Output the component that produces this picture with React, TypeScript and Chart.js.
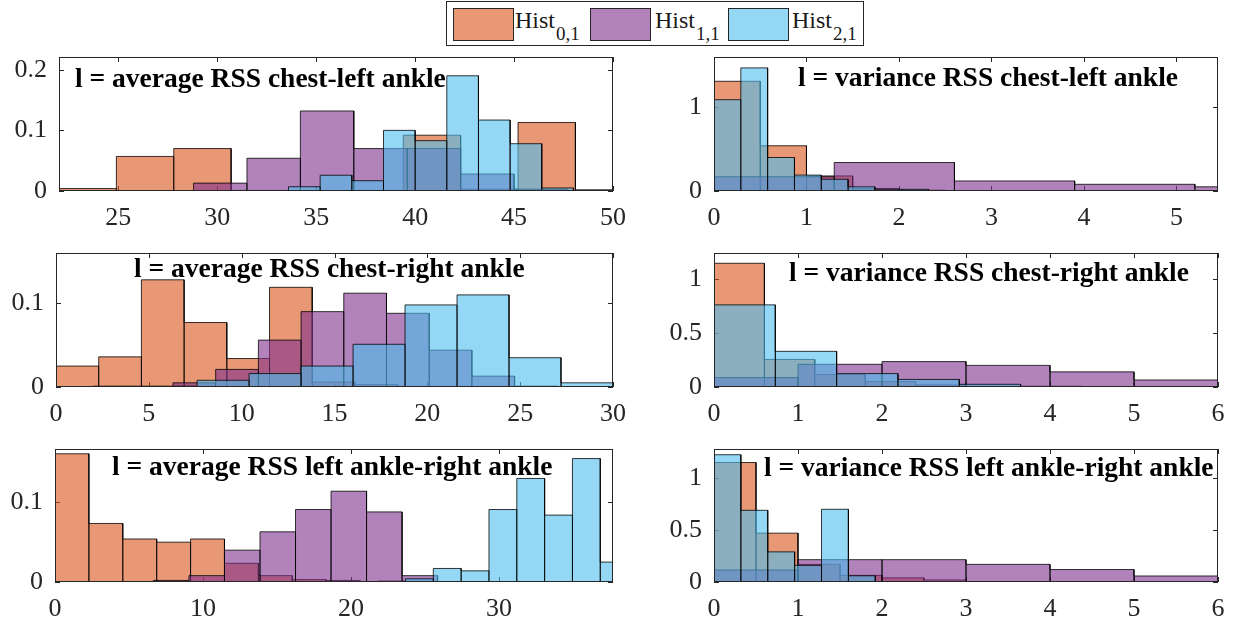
import React, { useEffect, useRef } from "react";
import { Chart, registerables } from "chart.js";

Chart.register(...registerables);

// ---------------- data ----------------
const SERIES_NAMES = ["Hist", "Hist", "Hist"];
const SERIES_SUBS = ["0,1", "1,1", "2,1"];

// Panel 1: average RSS chest-left ankle
const P1_X_TICKS = [25, 30, 35, 40, 45, 50];
const P1_Y_TICKS = [0, 0.1, 0.2];
const P1_EDGES_0 = [22.0, 24.9, 27.8, 30.7, 33.6, 36.5, 39.4, 42.3, 45.2, 48.1, 51.0];
const P1_VALS_0 = [0.004, 0.057, 0.07, 0.001, 0.0, 0.001, 0.092, 0.003, 0.113, 0.002];
const P1_EDGES_1 = [28.8, 31.5, 34.2, 36.9, 39.6, 42.3, 45.0, 47.7];
const P1_VALS_1 = [0.013, 0.054, 0.132, 0.07, 0.07, 0.028, 0.003];
const P1_EDGES_2 = [33.6, 35.2, 36.8, 38.4, 40.0, 41.6, 43.2, 44.8, 46.4, 48.0];
const P1_VALS_2 = [0.007, 0.026, 0.017, 0.1, 0.083, 0.19, 0.117, 0.078, 0.005];

// Panel 2: variance RSS chest-left ankle
const P2_X_TICKS = [0, 1, 2, 3, 4, 5];
const P2_Y_TICKS = [0, 1];
const P2_EDGES_0 = [0, 0.5, 1.0, 1.5, 2.0, 2.5, 3.0];
const P2_VALS_0 = [1.31, 0.54, 0.18, 0.03, 0.01, 0.005];
const P2_EDGES_1 = [0, 1.3, 2.6, 3.9, 5.2, 6.5];
const P2_VALS_1 = [0.17, 0.34, 0.12, 0.08, 0.05];
const P2_EDGES_2 = [0, 0.29, 0.58, 0.87, 1.16, 1.45, 1.74, 2.03, 2.32];
const P2_VALS_2 = [1.09, 1.47, 0.4, 0.19, 0.14, 0.05, 0.02, 0.02];

// Panel 3: average RSS chest-right ankle
const P3_X_TICKS = [0, 5, 10, 15, 20, 25, 30];
const P3_Y_TICKS = [0, 0.1];
const P3_EDGES_0 = [0, 2.3, 4.6, 6.9, 9.2, 11.5, 13.8, 16.1, 18.4];
const P3_VALS_0 = [0.025, 0.036, 0.128, 0.077, 0.034, 0.119, 0.006, 0.003];
const P3_EDGES_1 = [6.3, 8.6, 10.9, 13.2, 15.5, 17.8, 20.1, 22.4, 24.7, 27.0];
const P3_VALS_1 = [0.005, 0.021, 0.056, 0.09, 0.112, 0.088, 0.044, 0.013, 0.001];
const P3_EDGES_2 = [2.0, 4.8, 7.6, 10.4, 13.2, 16.0, 18.8, 21.6, 24.4, 27.2, 30.0];
const P3_VALS_2 = [0.001, 0.001, 0.008, 0.016, 0.025, 0.051, 0.098, 0.11, 0.035, 0.005];

// Panel 4: variance RSS chest-right ankle
const P4_X_TICKS = [0, 1, 2, 3, 4, 5, 6];
const P4_Y_TICKS = [0, 0.5, 1];
const P4_EDGES_0 = [0, 0.6, 1.2, 1.8, 2.4, 3.0, 3.6];
const P4_VALS_0 = [1.145, 0.255, 0.115, 0.05, 0.02, 0.005];
const P4_EDGES_1 = [0, 1, 2, 3, 4, 5, 6];
const P4_VALS_1 = [0.087, 0.21, 0.235, 0.2, 0.14, 0.065];
const P4_EDGES_2 = [0, 0.73, 1.46, 2.19, 2.92, 3.65, 4.38, 5.11];
const P4_VALS_2 = [0.76, 0.33, 0.124, 0.07, 0.025, 0.006, 0.003];

// Panel 5: average RSS left ankle-right ankle
const P5_X_TICKS = [0, 10, 20, 30];
const P5_Y_TICKS = [0, 0.1];
const P5_EDGES_0 = [0, 2.29, 4.58, 6.87, 9.16, 11.45, 13.74, 16.03, 18.32, 20.61];
const P5_VALS_0 = [0.161, 0.0735, 0.054, 0.05, 0.054, 0.0235, 0.008, 0.003, 0.002];
const P5_EDGES_1 = [6.65, 9.05, 11.45, 13.85, 16.25, 18.65, 21.05, 23.45, 25.85];
const P5_VALS_1 = [0.002, 0.008, 0.04, 0.063, 0.091, 0.114, 0.088, 0.008];
const P5_EDGES_2 = [21.8, 23.68, 25.56, 27.44, 29.32, 31.2, 33.08, 34.96, 36.84, 38.72];
const P5_VALS_2 = [0.001, 0.004, 0.017, 0.014, 0.091, 0.13, 0.084, 0.155, 0.025];

// Panel 6: variance RSS left ankle-right ankle
const P6_X_TICKS = [0, 1, 2, 3, 4, 5, 6];
const P6_Y_TICKS = [0, 0.5, 1];
const P6_EDGES_0 = [0, 0.5, 1.0, 1.5, 2.0, 2.5, 3.0, 3.5];
const P6_VALS_0 = [1.15, 0.47, 0.17, 0.064, 0.04, 0.02, 0.003];
const P6_EDGES_1 = [0, 1, 2, 3, 4, 5, 6];
const P6_VALS_1 = [0.115, 0.215, 0.215, 0.17, 0.12, 0.058];
const P6_EDGES_2 = [0, 0.32, 0.64, 0.96, 1.28, 1.6, 1.92];
const P6_VALS_2 = [1.225, 0.69, 0.29, 0.16, 0.7, 0.06];

// ---------------- styles ----------------
const FILLS = ["rgba(217,83,25,0.6)", "rgba(126,47,142,0.6)", "rgba(77,190,238,0.6)"];
const EDGE = "rgba(0,0,0,0.78)";
const AXIS_COLOR = "#262626";
const SERIF = '"Liberation Serif", "Times New Roman", Times, serif';
const TICK_FONT_SIZE = 26;
const TITLE_FONT = `bold 27.5px ${SERIF}`;
const TICK_LEN = 5;

const YW = 52; // y-axis band width
const XH = 46; // x-axis band height
const PT = 30; // top padding
const PR = 30; // right padding

type PanelDef = {
  title: string;
  rect: [number, number, number, number];
  xMin: number;
  xMax: number;
  yMax: number;
  xTicks: number[];
  yTicks: number[];
  edges: number[][];
  vals: number[][];
  titleAt: [number, number];
};

const PANELS: PanelDef[] = [
  {
    title: "l = average RSS chest-left ankle",
    rect: [59, 57, 613, 191], xMin: 22, xMax: 50, yMax: 0.221,
    xTicks: P1_X_TICKS, yTicks: P1_Y_TICKS,
    edges: [P1_EDGES_0, P1_EDGES_1, P1_EDGES_2], vals: [P1_VALS_0, P1_VALS_1, P1_VALS_2],
    titleAt: [16, 30],
  },
  {
    title: "l = variance RSS chest-left ankle",
    rect: [714, 57, 1218, 191], xMin: 0, xMax: 5.45, yMax: 1.6,
    xTicks: P2_X_TICKS, yTicks: P2_Y_TICKS,
    edges: [P2_EDGES_0, P2_EDGES_1, P2_EDGES_2], vals: [P2_VALS_0, P2_VALS_1, P2_VALS_2],
    titleAt: [84, 29],
  },
  {
    title: "l = average RSS chest-right ankle",
    rect: [56, 253, 613, 387], xMin: 0, xMax: 30, yMax: 0.16,
    xTicks: P3_X_TICKS, yTicks: P3_Y_TICKS,
    edges: [P3_EDGES_0, P3_EDGES_1, P3_EDGES_2], vals: [P3_VALS_0, P3_VALS_1, P3_VALS_2],
    titleAt: [78, 24],
  },
  {
    title: "l = variance RSS chest-right ankle",
    rect: [714, 253, 1218, 387], xMin: 0, xMax: 6, yMax: 1.24,
    xTicks: P4_X_TICKS, yTicks: P4_Y_TICKS,
    edges: [P4_EDGES_0, P4_EDGES_1, P4_EDGES_2], vals: [P4_VALS_0, P4_VALS_1, P4_VALS_2],
    titleAt: [75, 28],
  },
  {
    title: "l = average RSS left ankle-right ankle",
    rect: [55, 449, 613, 582], xMin: 0, xMax: 37.7, yMax: 0.167,
    xTicks: P5_X_TICKS, yTicks: P5_Y_TICKS,
    edges: [P5_EDGES_0, P5_EDGES_1, P5_EDGES_2], vals: [P5_VALS_0, P5_VALS_1, P5_VALS_2],
    titleAt: [57, 26],
  },
  {
    title: "l = variance RSS left ankle-right ankle",
    rect: [714, 449, 1218, 582], xMin: 0, xMax: 6, yMax: 1.28,
    xTicks: P6_X_TICKS, yTicks: P6_Y_TICKS,
    edges: [P6_EDGES_0, P6_EDGES_1, P6_EDGES_2], vals: [P6_VALS_0, P6_VALS_1, P6_VALS_2],
    titleAt: [50, 27],
  },
];

function histPoints(edges: number[], vals: number[]) {
  const pts: { x: number; y: number }[] = [];
  vals.forEach((v, i) => {
    pts.push({ x: edges[i], y: 0 });
    pts.push({ x: edges[i], y: v });
    pts.push({ x: edges[i + 1], y: v });
    pts.push({ x: edges[i + 1], y: 0 });
  });
  return pts;
}

const framePlugin = {
  id: "matlabFrame",
  beforeDatasetsDraw(chart: any) {
    const { ctx, chartArea: a, scales } = chart;
    const p = chart.options.plugins.matlabFrame || {};
    ctx.save();
    ctx.strokeStyle = AXIS_COLOR;
    ctx.lineWidth = 1;
    ctx.beginPath();
    (p.xTicks || []).forEach((v: number) => {
      const px = Math.round(scales.x.getPixelForValue(v)) + 0.5;
      ctx.moveTo(px, a.bottom);
      ctx.lineTo(px, a.bottom - TICK_LEN);
      ctx.moveTo(px, a.top);
      ctx.lineTo(px, a.top + TICK_LEN);
    });
    (p.yTicks || []).forEach((v: number) => {
      const py = Math.round(scales.y.getPixelForValue(v)) + 0.5;
      ctx.moveTo(a.left, py);
      ctx.lineTo(a.left + TICK_LEN, py);
      ctx.moveTo(a.right, py);
      ctx.lineTo(a.right - TICK_LEN, py);
    });
    ctx.stroke();
    ctx.restore();
  },
  afterDatasetsDraw(chart: any) {
    const { ctx, chartArea: a } = chart;
    const p = chart.options.plugins.matlabFrame || {};
    ctx.save();
    ctx.strokeStyle = AXIS_COLOR;
    ctx.lineWidth = 1;
    ctx.strokeRect(a.left + 0.5, a.top + 0.5, a.right - a.left - 1, a.bottom - a.top - 1);
    if (p.title) {
      ctx.font = TITLE_FONT;
      ctx.fillStyle = "#000";
      ctx.textBaseline = "alphabetic";
      ctx.textAlign = "left";
      ctx.fillText(p.title, a.left + p.titleAt[0], a.top + p.titleAt[1]);
    }
    ctx.restore();
  },
};

function makeConfig(pd: PanelDef): any {
  const tickFont = { family: SERIF, size: TICK_FONT_SIZE };
  return {
    type: "line",
    data: {
      datasets: pd.edges.map((e, i) => ({
        label: SERIES_NAMES[i] + SERIES_SUBS[i],
        data: histPoints(e, pd.vals[i]),
        fill: "origin",
        backgroundColor: FILLS[i],
        borderColor: EDGE,
        borderWidth: 1,
        pointRadius: 0,
        pointHoverRadius: 0,
        tension: 0,
        order: 3 - i,
      })),
    },
    options: {
      responsive: false,
      animation: false,
      events: [],
      layout: { padding: { top: PT, right: PR, left: 0, bottom: 0 } },
      plugins: {
        legend: { display: false },
        tooltip: { enabled: false },
        title: { display: false },
        matlabFrame: { xTicks: pd.xTicks, yTicks: pd.yTicks, title: pd.title, titleAt: pd.titleAt },
      },
      scales: {
        x: {
          type: "linear",
          min: pd.xMin,
          max: pd.xMax,
          grid: { display: false, drawTicks: false },
          border: { display: false },
          afterBuildTicks: (ax: any) => {
            ax.ticks = pd.xTicks.map((v) => ({ value: v }));
          },
          afterFit: (ax: any) => {
            ax.height = XH;
          },
          ticks: {
            font: tickFont,
            color: AXIS_COLOR,
            padding: 12,
            maxRotation: 0,
            minRotation: 0,
            autoSkip: false,
            callback: (v: any) => String(v),
          },
        },
        y: {
          type: "linear",
          min: 0,
          max: pd.yMax,
          grid: { display: false, drawTicks: false },
          border: { display: false },
          afterBuildTicks: (ax: any) => {
            ax.ticks = pd.yTicks.map((v) => ({ value: v }));
          },
          afterFit: (ax: any) => {
            ax.width = YW;
          },
          ticks: {
            font: tickFont,
            color: AXIS_COLOR,
            padding: 12,
            autoSkip: false,
            callback: (v: any) => String(v),
          },
        },
      },
    },
    plugins: [framePlugin],
  };
}

const LEGEND_ITEMS = [
  { swatch: 6, text: 68 },
  { swatch: 143, text: 208 },
  { swatch: 281, text: 345 },
];

function Legend() {
  return (
    <div
      style={{
        position: "absolute",
        left: 446,
        top: 1,
        width: 418,
        height: 45,
        border: `1px solid ${AXIS_COLOR}`,
        boxSizing: "border-box",
        background: "#fff",
        fontFamily: SERIF,
        color: "#1a1a1a",
      }}
    >
      {LEGEND_ITEMS.map((it, i) => (
        <React.Fragment key={i}>
          <div
            style={{
              position: "absolute",
              left: it.swatch,
              top: 6,
              width: 61,
              height: 33,
              boxSizing: "border-box",
              border: `1px solid ${AXIS_COLOR}`,
              background: FILLS[i],
            }}
          />
          <div
            style={{
              position: "absolute",
              left: it.text,
              top: 6,
              fontSize: 24,
              lineHeight: "24px",
              whiteSpace: "nowrap",
            }}
          >
            {SERIES_NAMES[i]}
            <span style={{ fontSize: 19, position: "relative", top: 12, marginLeft: 1 }}>{SERIES_SUBS[i]}</span>
          </div>
        </React.Fragment>
      ))}
    </div>
  );
}

export default function App() {
  const refs = useRef<(HTMLCanvasElement | null)[]>([]);

  useEffect(() => {
    const charts: Chart[] = [];
    PANELS.forEach((pd, i) => {
      const c = refs.current[i];
      if (c) charts.push(new Chart(c, makeConfig(pd)));
    });
    return () => charts.forEach((ch) => ch.destroy());
  }, []);

  return (
    <div
      style={{
        position: "absolute",
        left: 0,
        top: 0,
        width: 1239,
        height: 630,
        overflow: "hidden",
        background: "#fff",
      }}
    >
      {PANELS.map((pd, i) => {
        const [L, T, R, B] = pd.rect;
        const w = R - L + YW + PR;
        const h = B - T + PT + XH;
        return (
          <canvas
            key={i}
            ref={(el) => {
              refs.current[i] = el;
            }}
            width={w}
            height={h}
            style={{ position: "absolute", left: L - YW, top: T - PT, width: w, height: h }}
          />
        );
      })}
      <Legend />
    </div>
  );
}
